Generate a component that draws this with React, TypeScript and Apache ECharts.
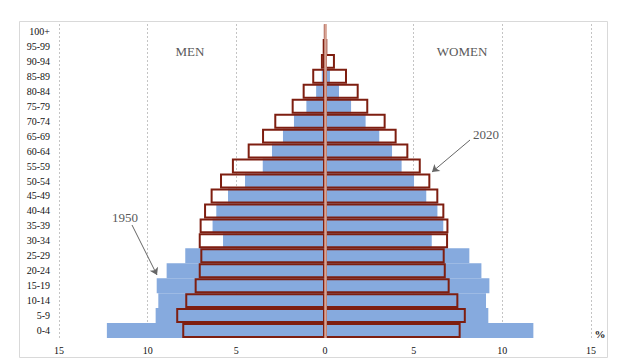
import React, { useEffect, useRef } from "react";
import * as echarts from "echarts";

const categories = ["0-4", "5-9", "10-14", "15-19", "20-24", "25-29", "30-34", "35-39", "40-44", "45-49", "50-54", "55-59", "60-64", "65-69", "70-74", "75-79", "80-84", "85-89", "90-94", "95-99", "100+"];
const men1950 = [12.3, 9.55, 9.4, 9.49, 8.93, 7.88, 5.75, 6.34, 6.13, 5.47, 4.51, 3.51, 2.99, 2.37, 1.75, 1.05, 0.5, 0.18, 0.06, 0.01, 0];
const women1950 = [11.75, 9.21, 9.08, 9.27, 8.82, 8.14, 6.02, 6.67, 6.34, 5.71, 5.02, 4.32, 3.78, 3.06, 2.29, 1.47, 0.79, 0.28, 0.08, 0.02, 0];
const men2020 = [8.05, 8.39, 7.88, 7.35, 7.12, 7.03, 7.12, 7.07, 6.82, 6.45, 5.92, 5.25, 4.36, 3.55, 2.86, 1.88, 1.26, 0.72, 0.23, 0.13, 0.02];
const women2020 = [7.65, 7.94, 7.52, 7.03, 6.81, 6.75, 6.94, 6.96, 6.73, 6.39, 5.94, 5.4, 4.7, 4.04, 3.42, 2.44, 1.9, 1.24, 0.56, 0.13, 0.02];
const xTicks = [-15, -10, -5, 0, 5, 10, 15];

const BLUE = "#86AADE";
const RED = "#7E1E10";
const SERIF = "'Liberation Serif', 'DejaVu Serif', serif";

export default function App() {
  const ref = useRef<HTMLDivElement>(null);
  useEffect(() => {
    if (!ref.current) return;
    const chart = echarts.init(ref.current, undefined, { renderer: "svg" });
    const blueStyle = { color: BLUE };
    const redStyle = { color: "rgba(0,0,0,0)", borderColor: RED, borderWidth: 2 };
    chart.setOption({
      animation: false,
      grid: { left: 59, right: 36, top: 24, bottom: 21 },
      xAxis: {
        type: "value",
        min: xTicks[0],
        max: xTicks[xTicks.length - 1],
        interval: 5,
        axisLine: { show: false },
        axisTick: { show: false },
        axisLabel: {
          formatter: (v: number) => String(Math.abs(v)),
          fontFamily: SERIF,
          fontSize: 10,
          color: "#111",
          margin: 7,
        },
        splitLine: { show: true, lineStyle: { color: "#C4C4C4", type: [2, 2], width: 1 } },
      },
      yAxis: {
        type: "category",
        data: categories,
        axisLine: { show: false },
        axisTick: { show: false },
        axisLabel: { fontFamily: SERIF, fontSize: 10, color: "#111", margin: 9 },
      },
      series: [
        { name: "1950 men", type: "bar", data: men1950.map((v) => -v), itemStyle: blueStyle, barGap: "-100%", barCategoryGap: 0 },
        { name: "1950 women", type: "bar", data: women1950, itemStyle: blueStyle, barGap: "-100%", barCategoryGap: 0 },
        { name: "2020 men", type: "bar", data: men2020.map((v) => -v), itemStyle: redStyle, barGap: "-100%", barCategoryGap: 0, z: 3 },
        {
          name: "2020 women",
          type: "bar",
          data: women2020,
          itemStyle: redStyle,
          barGap: "-100%",
          barCategoryGap: 0,
          z: 3,
          markLine: {
            silent: true,
            symbol: ["none", "none"],
            label: { show: false },
            lineStyle: { color: "#D8A596", width: 2.5, type: "solid" },
            data: [{ xAxis: 0 }],
          },
        },
        {
          name: "arrows",
          type: "line",
          data: [],
          markLine: {
            silent: true,
            symbol: ["none", "arrow"],
            symbolSize: 7,
            label: { show: false },
            lineStyle: { color: "#666", width: 1, type: "solid" },
            data: [
              [{ x: 132, y: 225 }, { x: 157, y: 275 }],
              [{ x: 470, y: 140 }, { x: 432, y: 172 }],
            ],
          },
        },
      ],
      graphic: [
        { type: "rect", shape: { x: 19.5, y: 21.5, width: 588, height: 336 }, style: { fill: "none", stroke: "#D9D9D9", lineWidth: 1 }, z: -1 },
        { type: "text", x: 190, y: 51, style: { text: "MEN", font: `13px ${SERIF}`, fill: "#595959", align: "center", verticalAlign: "middle" } },
        { type: "text", x: 462, y: 51, style: { text: "WOMEN", font: `13px ${SERIF}`, fill: "#595959", align: "center", verticalAlign: "middle" } },
        { type: "text", x: 125, y: 217, style: { text: "1950", font: `13px ${SERIF}`, fill: "#595959", align: "center", verticalAlign: "middle" } },
        { type: "text", x: 486, y: 134, style: { text: "2020", font: `13px ${SERIF}`, fill: "#595959", align: "center", verticalAlign: "middle" } },
        { type: "text", x: 600, y: 334, style: { text: "%", font: `bold 11px ${SERIF}`, fill: "#222", align: "center", verticalAlign: "middle" } },
      ],
    });
    return () => chart.dispose();
  }, []);
  return <div ref={ref} style={{ position: "fixed", left: 0, top: 0, width: 627, height: 359, background: "#fff" }} />;
}
